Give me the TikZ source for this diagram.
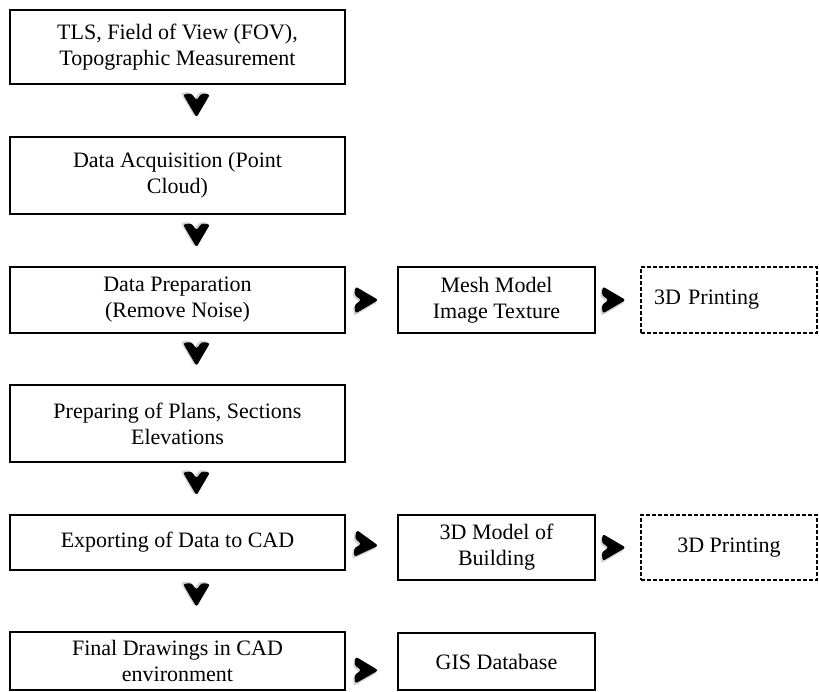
\documentclass[tikz,border=0pt]{standalone}
\usepackage{fontspec}
\setmainfont{Liberation Serif}
\usetikzlibrary{decorations.markings}
\begin{document}
\begin{tikzpicture}[x=1pt,y=-1pt,
  box/.style={draw,line width=2pt,align=center,inner sep=0pt,font=\fontsize{22}{26}\selectfont},
  dashbox/.style={box,line width=1.4pt,dash pattern=on 4pt off 2pt},
  chev/.style={decoration={markings,mark=at position #1 with {
    \fill[black!25,opacity=0.7,rounded corners=2.5pt,xshift=-1.5pt,yshift=-2pt] (13,0)--(-11,14)--(-12,5)--(-5,0)--(-12,-5)--(-11,-14)--cycle;
    \fill[black,rounded corners=2.5pt] (12,0)--(-11,13.5)--(-12,5)--(-5,0)--(-12,-5)--(-11,-13.5)--cycle;}},
    postaction=decorate}]
\useasboundingbox (0,0) rectangle (819,691);
\node[box,minimum width=335,minimum height=74] (tls) at (177.5,47) {TLS, Field of View (FOV),\\Topographic Measurement};
\node[box,minimum width=335,minimum height=77] (acq) at (177.5,175.5) {Data Acquisition (Point\\Cloud)};
\node[box,minimum width=335,minimum height=66] (prep) at (177.5,300) {Data Preparation\\(Remove Noise)};
\node[box,minimum width=335,minimum height=77] (plans) at (177.5,423.5) {Preparing of Plans, Sections\\Elevations};
\node[box,minimum width=335,minimum height=55] (cad) at (177.5,542.5) {Exporting of Data to CAD};
\node[box,minimum width=335,minimum height=58] (final) at (177.5,661) {Final Drawings in CAD\\environment};
\node[box,minimum width=197,minimum height=66] (mesh) at (496.5,300) {Mesh Model\\Image Texture};
\node[box,minimum width=197,minimum height=65] (model) at (496.5,547.5) {3D Model of\\Building};
\node[box,minimum width=197,minimum height=57] (gis) at (496.5,661.5) {GIS Database};
\node[dashbox,minimum width=176,minimum height=66,text width=150,align=left] (printA) at (729,300) {3D Printing};
\node[dashbox,minimum width=176,minimum height=65] (printB) at (729,547.5) {3D Printing};
% down
\foreach \a/\b in {tls/acq,acq/prep,prep/plans,plans/cad,cad/final}
  \path[chev=0.4] ([xshift=19pt]\a.south) -- ([xshift=19pt]\b.north);
% right
\path[chev=0.4] (prep.east) -- (mesh.west);
\path[chev=0.4] (mesh.east) -- (printA.west);
\path[chev=0.4] (cad.east) -- (model.west);
\path[chev=0.4] (model.east) -- (printB.west);
\path[chev=0.4] ([yshift=-9pt]final.east) -- ([yshift=-9pt]gis.west);
\end{tikzpicture}
\end{document}
